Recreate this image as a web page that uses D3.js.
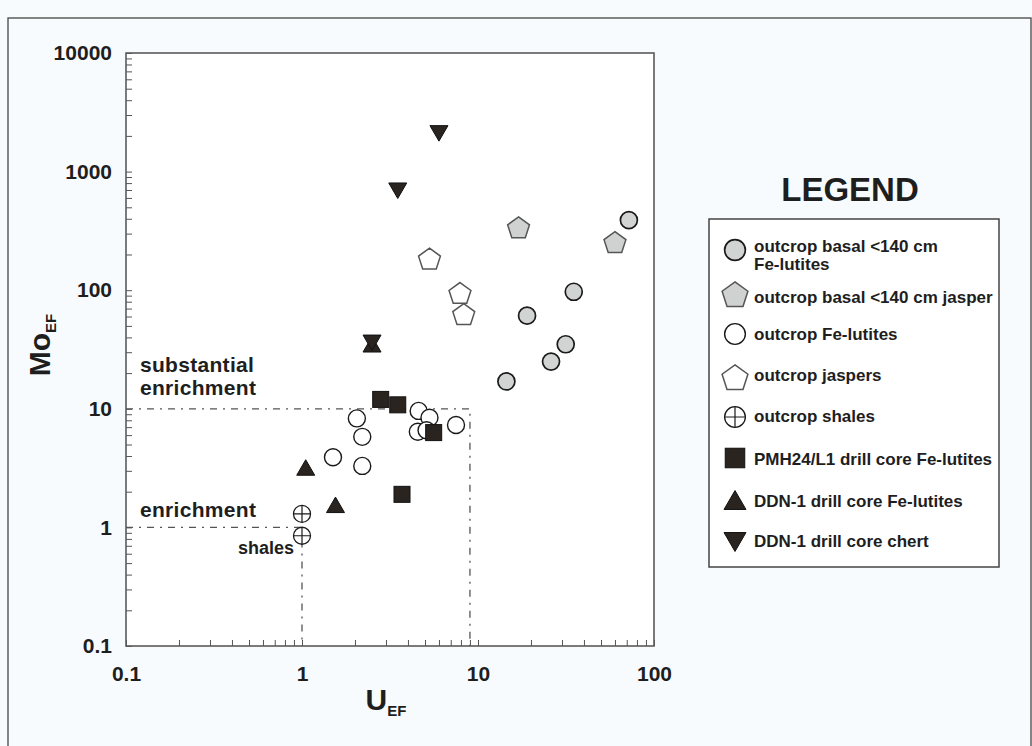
<!DOCTYPE html>
<html>
<head>
<meta charset="utf-8">
<script src="https://cdn.jsdelivr.net/npm/d3@7"></script>
<style>
  html, body { margin: 0; padding: 0; background: #f8fbfd; }
  svg { display: block; }
  text { font-family: "Liberation Sans", Arial, Helvetica, sans-serif; font-weight: bold; fill: #1e1e1e; }
</style>
</head>
<body>
<svg id="chart" width="1032" height="746"></svg>
<script>
// U and Mo enrichment factors, [U_EF, Mo_EF] per sample
const basalFeLutites = [[72, 390], [35, 97], [19, 61], [31.5, 35], [26, 25], [14.5, 17]];
const basalJasper    = [[17, 340], [60, 255]];
const outcropFeLutites = [[2.05, 8.3], [2.2, 5.8], [4.6, 9.6], [5.3, 8.4], [4.55, 6.4],
                          [5.1, 6.6], [7.5, 7.3], [1.5, 3.9], [2.2, 3.3]];
const outcropJaspers = [[5.3, 185], [7.9, 95], [8.3, 63]];
const outcropShales  = [[1.0, 1.3], [1.0, 0.85]];
const pmhFeLutites   = [[2.8, 12], [3.5, 10.8], [5.6, 6.3], [3.7, 1.9]];
const ddnFeLutites   = [[1.05, 3.2], [1.55, 1.55], [2.5, 35]];
const ddnChert       = [[6.0, 2100], [3.5, 690], [2.5, 36]];

const xTickLabels = [0.1, 1, 10, 100];
const yTickLabels = [0.1, 1, 10, 100, 1000, 10000];

// threshold boxes: [U limit, Mo limit]
const thresholds = [[9, 10], [1, 1]];
const zoneLabels = [["substantial", "enrichment"], ["enrichment"], ["shales"]];

const legendItems = [
  { kind: "grayCircle",   label: ["outcrop basal <140 cm", "Fe-lutites"] },
  { kind: "grayPentagon", label: ["outcrop basal <140 cm jasper"] },
  { kind: "openCircle",   label: ["outcrop Fe-lutites"] },
  { kind: "openPentagon", label: ["outcrop jaspers"] },
  { kind: "crossCircle",  label: ["outcrop shales"] },
  { kind: "square",       label: ["PMH24/L1 drill core Fe-lutites"] },
  { kind: "triUp",        label: ["DDN-1 drill core Fe-lutites"] },
  { kind: "triDown",      label: ["DDN-1 drill core chert"] }
];

const svg = d3.select("#chart");
const plot = { left: 126, right: 654, top: 53, bottom: 646 };

// outer frame
svg.append("rect").attr("x", 8).attr("y", 18).attr("width", 1023).attr("height", 740)
  .attr("fill", "#f8fbfd").attr("stroke", "#444").attr("stroke-width", 1.3);

const x = d3.scaleLog().domain([0.1, 100]).range([plot.left, plot.right]);
const y = d3.scaleLog().domain([0.1, 10000]).range([plot.bottom, plot.top]);

svg.append("rect").attr("x", plot.left).attr("y", plot.top)
  .attr("width", plot.right - plot.left).attr("height", plot.bottom - plot.top)
  .attr("fill", "#ffffff");

// log ticks, labels only on decades
function logTicks(lo, hi) {
  const out = [];
  for (let e = Math.log10(lo); e < Math.log10(hi); e++) {
    for (let k = 1; k < 10; k++) out.push(+(k * Math.pow(10, e)).toPrecision(3));
  }
  out.push(hi);
  return out;
}
const fmt = v => String(v);

const xAxis = d3.axisBottom(x).tickValues(logTicks(0.1, 100))
  .tickSizeInner(-6).tickSizeOuter(0).tickPadding(20)
  .tickFormat(v => xTickLabels.includes(v) ? fmt(v) : "");
const gx = svg.append("g").attr("transform", `translate(0,${plot.bottom})`).call(xAxis);

const yAxis = d3.axisLeft(y).tickValues(logTicks(0.1, 10000))
  .tickSizeInner(-6).tickSizeOuter(0).tickPadding(14)
  .tickFormat(v => yTickLabels.includes(v) ? fmt(v) : "");
const gy = svg.append("g").attr("transform", `translate(${plot.left},0)`).call(yAxis);

[gx, gy].forEach(g => {
  g.select(".domain").remove();
  g.selectAll(".tick line").attr("stroke", "#555").attr("stroke-width", 1);
  g.selectAll(".tick text").style("font-size", "21px").attr("fill", "#1e1e1e")
    .style("font-family", "'Liberation Sans', Arial, sans-serif").style("font-weight", "bold");
});

// plot frame
svg.append("rect").attr("x", plot.left).attr("y", plot.top)
  .attr("width", plot.right - plot.left).attr("height", plot.bottom - plot.top)
  .attr("fill", "none").attr("stroke", "#5a5a5a").attr("stroke-width", 1.6);

// dash-dot threshold lines
const dash = "7,6,2,6";
thresholds.forEach(([u, mo]) => {
  svg.append("path")
    .attr("d", `M${x(0.1)},${y(mo)}H${x(u)}V${y(0.1)}`)
    .attr("fill", "none").attr("stroke", "#555").attr("stroke-width", 1.3)
    .attr("stroke-dasharray", dash);
});

// zone labels
const zoneStyle = t => t.style("font-size", "21px").style("letter-spacing", "0.3px");
zoneStyle(svg.append("text").attr("x", 140).attr("y", 372).text(zoneLabels[0][0]));
zoneStyle(svg.append("text").attr("x", 140).attr("y", 395).text(zoneLabels[0][1]));
zoneStyle(svg.append("text").attr("x", 140).attr("y", 517).text(zoneLabels[1][0]));
svg.append("text").attr("x", 294).attr("y", 554).attr("text-anchor", "end")
  .style("font-size", "18px").text(zoneLabels[2][0]);

// axis titles
const yt = svg.append("text").attr("transform", "translate(50,345) rotate(-90)")
  .attr("text-anchor", "middle").style("font-size", "30px");
yt.append("tspan").text("Mo");
yt.append("tspan").attr("dy", 6).style("font-size", "15px").text("EF");

const xt = svg.append("text").attr("x", 386).attr("y", 710)
  .attr("text-anchor", "middle").style("font-size", "30px");
xt.append("tspan").text("U");
xt.append("tspan").attr("dy", 6).style("font-size", "15px").text("EF");

// marker drawing
const DARK = "#2a2420";
function pentagonPath(R) {
  const pts = d3.range(5).map(i => {
    const a = -Math.PI / 2 + i * 2 * Math.PI / 5;
    return [R * Math.cos(a), R * Math.sin(a)];
  });
  return "M" + pts.map(p => p.join(",")).join("L") + "Z";
}
function triPath(w, h, up) {
  return up
    ? `M0,${-h / 2}L${w / 2},${h / 2}L${-w / 2},${h / 2}Z`
    : `M0,${h / 2}L${w / 2},${-h / 2}L${-w / 2},${-h / 2}Z`;
}
function drawMarker(g, kind, s) {
  switch (kind) {
    case "grayCircle":
      g.append("circle").attr("r", 8.5 * s).attr("fill", "#d2d4d4").attr("stroke", "#1a1a1a").attr("stroke-width", 1.7);
      break;
    case "openCircle":
      g.append("circle").attr("r", 8.5 * s).attr("fill", "#fff").attr("stroke", "#1a1a1a").attr("stroke-width", 1.4);
      break;
    case "crossCircle":
      g.append("circle").attr("r", 8.5 * s).attr("fill", "#fff").attr("stroke", "#1a1a1a").attr("stroke-width", 1.3);
      g.append("path").attr("d", `M${-8.5 * s},0H${8.5 * s}M0,${-8.5 * s}V${8.5 * s}`)
        .attr("stroke", "#1a1a1a").attr("stroke-width", 1.2);
      break;
    case "grayPentagon":
      g.append("path").attr("d", pentagonPath(11.5 * s)).attr("transform", `translate(0,${1.2 * s})`)
        .attr("fill", "#d0d2d2").attr("stroke", "#555").attr("stroke-width", 1.5);
      break;
    case "openPentagon":
      g.append("path").attr("d", pentagonPath(11.5 * s)).attr("transform", `translate(0,${1.2 * s})`)
        .attr("fill", "#fff").attr("stroke", "#555").attr("stroke-width", 1.5);
      break;
    case "square":
      g.append("rect").attr("x", -8 * s).attr("y", -8 * s).attr("width", 16 * s).attr("height", 16 * s)
        .attr("fill", DARK).attr("stroke", "#111").attr("stroke-width", 1);
      break;
    case "triUp":
      g.append("path").attr("d", triPath(18 * s, 15.5 * s, true)).attr("fill", DARK).attr("stroke", "#111").attr("stroke-width", 1);
      break;
    case "triDown":
      g.append("path").attr("d", triPath(18 * s, 15.5 * s, false)).attr("fill", DARK).attr("stroke", "#111").attr("stroke-width", 1);
      break;
  }
}

const series = [
  ["grayCircle", basalFeLutites],
  ["grayPentagon", basalJasper],
  ["openCircle", outcropFeLutites],
  ["openPentagon", outcropJaspers],
  ["crossCircle", outcropShales],
  ["square", pmhFeLutites],
  ["triUp", ddnFeLutites],
  ["triDown", ddnChert]
];
const marks = svg.append("g");
series.forEach(([kind, data]) => {
  marks.selectAll(null).data(data).enter().append("g")
    .attr("transform", d => `translate(${x(d[0])},${y(d[1])})`)
    .each(function () { drawMarker(d3.select(this), kind, 1); });
});

// legend
svg.append("text").attr("x", 850).attr("y", 201).attr("text-anchor", "middle")
  .style("font-size", "33px").attr("fill", "#2a2a2a").text("LEGEND");
svg.append("rect").attr("x", 709).attr("y", 219).attr("width", 290).attr("height", 348)
  .attr("fill", "#fff").attr("stroke", "#444").attr("stroke-width", 1.5);

const legendSymY = [250, 294, 334, 377, 417, 458, 500, 542];
const legendTextY = [252, 303, 340, 381, 422, 465, 507, 547];
legendItems.forEach((item, i) => {
  const g = svg.append("g").attr("transform", `translate(735,${legendSymY[i]})`);
  drawMarker(g, item.kind, item.kind.includes("Pentagon") ? 1.18 : 1.22);
  const t = svg.append("text").attr("x", 754).attr("y", legendTextY[i]).style("font-size", "17px");
  item.label.forEach((line, j) => {
    t.append("tspan").attr("x", 754).attr("dy", j === 0 ? 0 : 18).text(line);
  });
});
</script>
</body>
</html>
